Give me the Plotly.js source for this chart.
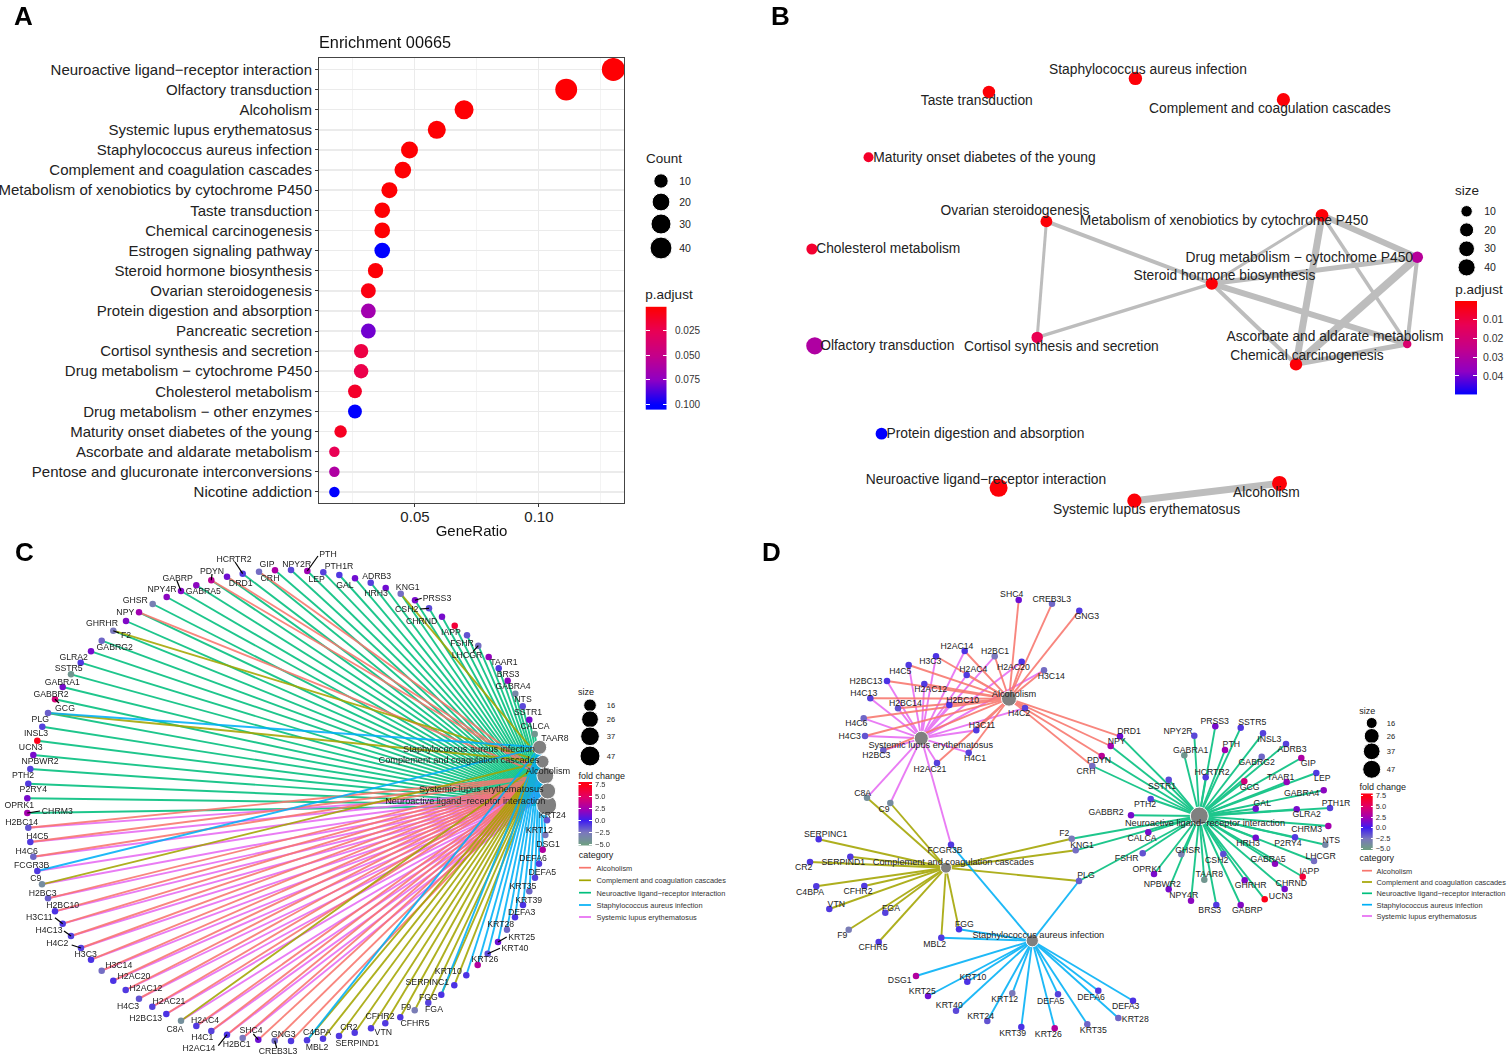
<!DOCTYPE html>
<html><head><meta charset="utf-8">
<script src="https://cdn.plot.ly/plotly-3.0.1.min.js"></script>
<style>html,body{margin:0;padding:0;background:#fff}#p{width:1508px;height:1057px}</style>
</head><body><div id="p"></div>
<script>
// ---------- Panel A: enrichment dot plot ----------
const terms = ["Neuroactive ligand−receptor interaction","Olfactory transduction","Alcoholism","Systemic lupus erythematosus","Staphylococcus aureus infection","Complement and coagulation cascades","Metabolism of xenobiotics by cytochrome P450","Taste transduction","Chemical carcinogenesis","Estrogen signaling pathway","Steroid hormone biosynthesis","Ovarian steroidogenesis","Protein digestion and absorption","Pancreatic secretion","Cortisol synthesis and secretion","Drug metabolism − cytochrome P450","Cholesterol metabolism","Drug metabolism − other enzymes","Maturity onset diabetes of the young","Ascorbate and aldarate metabolism","Pentose and glucuronate interconversions","Nicotine addiction"];
const geneRatio = [0.13,0.111,0.0698,0.0588,0.0478,0.0451,0.0397,0.0368,0.0368,0.0368,0.0341,0.0312,0.0312,0.0312,0.0283,0.0283,0.0258,0.0258,0.02,0.0175,0.0175,0.0175];
const termCount = [47,40,25,21,17,16,14,13,13,13,12,11,11,11,10,10,9,9,7,6,6,6];
const termPadj = [0.001,0.001,0.001,0.001,0.001,0.001,0.001,0.001,0.001,0.1,0.002,0.005,0.066,0.08,0.02,0.022,0.012,0.1,0.01,0.025,0.06,0.1];

// ---------- Panel B: term network ----------
const bTerms = ["Staphylococcus aureus infection","Taste transduction","Complement and coagulation cascades","Maturity onset diabetes of the young","Ovarian steroidogenesis","Metabolism of xenobiotics by cytochrome P450","Cholesterol metabolism","Drug metabolism − cytochrome P450","Steroid hormone biosynthesis","Cortisol synthesis and secretion","Ascorbate and aldarate metabolism","Olfactory transduction","Chemical carcinogenesis","Protein digestion and absorption","Neuroactive ligand−receptor interaction","Systemic lupus erythematosus","Alcoholism"];
const bX = [1135.4,988.9,1283.4,868.5,1046.4,1322,811.9,1417.3,1211.8,1037.2,1407.2,814.8,1296,881.5,998.6,1134.4,1279.5];
const bY = [78.4,92,99.7,157.2,221.4,215.3,249,257.3,283.6,337.4,344,345.8,364.4,433.7,487.8,500.7,483.4];
const bLabelX = [1148,976.8,1269.8,984.5,1015,1223.9,888.3,1299.3,1224.4,1061.4,1335,887.3,1307,985.5,986,1146.5,1266.4];
const bLabelY = [69.3,100.7,108.9,157.5,211,221,249,257.6,275.5,346.2,336.4,345.8,355.6,433.7,479.7,509.8,492.9];
const bCount = [17,13,16,7,11,14,9,10,12,10,6,40,13,11,47,21,25];
const bPadj = [0.001,0.001,0.001,0.006,0.001,0.001,0.007,0.028,0.001,0.012,0.018,0.03,0.001,0.05,0.001,0.001,0.001];
const bEdgeFrom = ["Ovarian steroidogenesis","Ovarian steroidogenesis","Cortisol synthesis and secretion","Steroid hormone biosynthesis","Steroid hormone biosynthesis","Steroid hormone biosynthesis","Steroid hormone biosynthesis","Metabolism of xenobiotics by cytochrome P450","Metabolism of xenobiotics by cytochrome P450","Metabolism of xenobiotics by cytochrome P450","Drug metabolism − cytochrome P450","Drug metabolism − cytochrome P450","Chemical carcinogenesis","Systemic lupus erythematosus"];
const bEdgeTo = ["Steroid hormone biosynthesis","Cortisol synthesis and secretion","Steroid hormone biosynthesis","Metabolism of xenobiotics by cytochrome P450","Drug metabolism − cytochrome P450","Chemical carcinogenesis","Ascorbate and aldarate metabolism","Drug metabolism − cytochrome P450","Chemical carcinogenesis","Ascorbate and aldarate metabolism","Chemical carcinogenesis","Ascorbate and aldarate metabolism","Ascorbate and aldarate metabolism","Alcoholism"];
const bEdgeSimilarity = [4,3,3.5,3,5,4,6,6,7,3.5,8,4,5,7];

// ---------- Panels C and D: gene-concept networks ----------
const genes = ["TAAR8","CALCA","SSTR1","NTS","GABRA4","BRS3","TAAR1","LHCGR","FSHR","IAPP","CHRND","CSH2","PRSS3","KNG1","HRH3","ADRB3","GAL","LEP","PTH1R","PTH","NPY2R","GIP","CRH","HCRTR2","DRD1","PDYN","GABRA5","GABRP","NPY4R","GHSR","NPY","GHRHR","F2","GABRG2","GLRA2","SSTR5","GABRA1","GABBR2","GCG","PLG","INSL3","UCN3","NPBWR2","PTH2","P2RY4","OPRK1","CHRM3","H2BC14","H4C5","H4C6","FCGR3B","C9","H2BC3","H2BC10","H3C11","H4C13","H4C2","H3C3","H3C14","H2AC20","H2AC12","H4C3","H2AC21","H2BC13","C8A","H2AC4","H4C1","H2AC14","H2BC1","SHC4","CREB3L3","GNG3","MBL2","C4BPA","SERPIND1","CR2","CFHR2","VTN","CFHR5","F9","FGA","FGG","SERPINC1","KRT10","KRT26","KRT40","KRT25","KRT28","DEFA3","KRT39","KRT35","DEFA5","DEFA6","DSG1","KRT12","KRT24"];
const foldChange = [-4.5,1.5,-1.2,-3.5,2,-0.8,2.2,-2.2,-1.5,6.5,1.5,-1.3,1.5,-2.2,1.3,-1,1.3,-0.8,-1,2.5,-1.2,3,-2.2,-0.8,1.3,3.5,2,1.8,2,-3,2.6,1.7,-2.6,-2,1.5,-0.8,-4.5,1.5,4.5,-1.8,-1,7.5,1.5,-1,-0.8,1.5,2.7,-1.5,-0.8,-2,-0.8,-3.8,-1.8,-0.6,-0.8,-1,-1,-0.6,-2.2,-0.6,-0.8,-1.5,-1,-0.6,-4,-0.8,-1,-0.6,-2.5,1.2,-2,-0.8,-0.8,-0.8,-0.8,-0.8,-0.8,-0.8,-0.8,-2.8,-1,-0.6,-0.6,-0.6,3.2,-1.2,1.2,-2,-0.6,-0.6,-2,-1,-0.8,3.2,-2.6,-1.5];
const cX = [534.7,529.3,522.7,515.3,507.7,498.7,488.7,478.3,467,454.7,442,429,415,400.7,385.7,370.7,355,339.3,323.3,307.3,291,275,259,242.7,227,211.3,196.3,181,166.7,152.7,139,126,113.3,101.7,91,80.7,71,62.7,55,48,42.3,37.3,33.3,30.3,28.3,27.3,27.3,28.3,30.3,33.3,37.3,42,48,55,62.7,71,81,91,101.7,113.3,125.7,139,152.3,166.3,181,196.3,211.3,227,242.7,258.3,274.7,291,307,323,339,354.7,371,385.3,400.3,414.7,428.3,441.3,454.3,466.3,477.7,487.7,498,507,515,523,529.3,535,539,542.7,545.3,547];
const cY = [734,719.7,706.3,693.7,680.7,668.3,657,645.7,635.3,625.7,616.7,608.3,600.3,593.7,588,582.7,578.3,575,572.3,571,570,570.3,571.7,573.7,576.7,580.3,585.3,591,597,604,612.3,621,630.7,640.7,651.3,662.7,674.3,687,699.3,713,726.7,740.7,755,769,783.7,798.3,813,827.7,842,856.7,871,884.3,898.3,911.3,923.7,936,948,959.7,970.7,980.7,990,998.7,1006.7,1014,1020.7,1026,1031,1034.7,1038,1039.7,1040.7,1041,1040.3,1038.7,1036,1032.7,1028.3,1023.3,1017.3,1010.3,1002.7,994.7,985.3,975.3,965,953.7,942,929.7,917.3,905,891.3,877.7,863.7,849.7,835,820.3];
const cLabelX = [555,535,528,523,513,508,504,467,462,451,421.7,406.7,437,407.7,376,376.7,345,316.7,339,328,296.7,267,270,234,240.7,212,203.3,177.7,162,135.3,125.3,102,126,114.7,73.7,68.7,62.3,51,65,40.3,36,30.7,40,23,33.3,19.3,57.3,21.7,37.3,26.7,31.7,35.7,42.7,62.7,39.3,49,57.3,85.7,118.7,134,146,128,169,145.7,175,205,202.3,199,236.7,251,278,283.3,317,317,357.3,349,380,383.3,415,406,434,428.3,427.3,448.3,485,515,521.7,500.7,521.7,528.7,523,542.3,533,548,539.3,552.3];
const cLabelY = [738,726,712,699,686,674,662,655,643,632,621,609,598,587,593.3,575.7,585,579,566,554,564,564,578,558.7,582.7,570.7,591,577.7,588.7,600,612.3,623.3,634.7,646.7,657.3,668.3,681.7,694,708,719.3,732.7,746.7,760.7,775,789.3,805,811,822.3,835.7,850.7,865.3,878.3,893,905.3,917,930,942.7,954,965,976.3,987.7,1005.7,1001.3,1017.7,1028.7,1019.7,1036.7,1047.7,1044.3,1030.3,1050.6,1034.3,1046.7,1032.3,1043.3,1027.3,1015.7,1032.3,1023,1006.7,1008.7,997,982.3,970.7,959,947.7,936.7,924.3,911.7,900,886,872,858,844.3,829.7,815];
const dX = [1204.3,1148.3,1168.7,1325.3,1323.7,1216.3,1286.7,1314,1142.7,1302.7,1284.7,1223.3,1215.3,1075.7,1255.7,1286,1255.7,1316.3,1330,1225,1194.3,1301.3,1092.3,1205.7,1120,1101.7,1275,1240.7,1191,1181.3,1110.7,1244.7,1071.7,1261.7,1296.7,1240.7,1184.3,1131,1244.3,1079,1263,1264.7,1168.7,1150.7,1295,1154,1328.3,898,908.7,863.7,951,890.3,883.3,949.3,976.3,870.3,1025,936,1044,1021.7,924.3,865,937,887,867,966.7,968.7,964.7,994.7,1018.7,1052,1079.3,941.3,816.3,850.3,810,864.3,829.3,878.7,848.7,885.3,959,818.7,967.3,1054.7,956,928,1118.3,1133,1021.3,1087.3,1058,1098.3,916,1012.3,987.3];
const dY = [879.7,832.3,779.7,844.7,790.3,905,782,861,853.3,876.7,889,854,726.3,850.3,837.7,744,808.7,773,808,750,735.7,758,766,777.3,736.3,756,863.7,905,900.7,854.3,746,880.3,838.7,756.7,809.3,727.7,755.3,815.3,781.3,881,733.3,899.3,889.3,799,837.3,874,826,708.3,665,718.3,844.7,803,750.3,705,730.3,698.3,708,656.3,670.3,661.7,684,736,763,681,797.7,675,752.7,651,656.3,600,603.7,610.7,937.7,886.3,856.7,862,886,909,942,929.7,912.7,929.3,839.3,981.7,1028.3,1010.7,996,1018,1000.7,1027,1024.3,994.3,990.7,976,993.3,1021];
const dLabelX = [1209.3,1142,1162,1331.3,1301.7,1209.7,1280.7,1320.7,1126.7,1309.3,1291.3,1216.7,1214.7,1082,1248,1292,1262.3,1322.3,1336,1231.3,1178,1308.3,1086,1212,1129,1099,1268,1247.3,1183.7,1187.7,1116.7,1250.7,1064.3,1256.7,1306.7,1252.3,1190.7,1106,1249.7,1086,1269.3,1280.7,1162.3,1145,1288,1147.3,1306.7,905.3,900.3,856.3,945,884,876.3,962.7,982,863.7,1019,930.3,1051.3,1013.3,930.7,849.7,930,866,862.7,973.3,975,957,995,1011.7,1051.7,1086.7,934.7,810,843.3,803.7,858,836.3,873,842.3,891,964.3,825.7,973,1048.3,949.3,922.3,1135.3,1125.7,1012.7,1093.3,1050.7,1091,899.7,1004.7,980.7];
const dLabelY = [874.3,837.7,785.7,839.7,792.7,909.7,777,855.7,858,871.3,882.7,860.3,721,845,843,748.7,803.3,778.3,803,744.3,730.7,763.3,771,772.3,730.7,760.3,858.7,909.7,895,849.7,741,885.3,833.3,761.7,814.3,721.7,750.3,812,786.7,875,738.7,896,884,804,843,869,828.7,703.3,671,723.3,850,809,755.3,699.7,725.3,692.7,713.3,661,675.7,666.7,689.3,736,769,680.7,793,669.3,758.3,645.7,651,594,598.7,615.7,943.7,892,862,867.3,891.3,904,947.3,935,908.3,924.3,834,976.7,1034,1004.7,990.7,1019,1006.3,1033,1029.7,1000.7,996.7,979.7,999.3,1015.7];

const alcoholismGenes = ["H2BC14","H4C5","H4C6","H2BC3","H2BC10","H3C11","H4C13","H4C2","H3C3","H3C14","H2AC20","H2AC12","H4C3","H2AC21","H2BC13","H2AC4","H4C1","H2AC14","H2BC1","SHC4","CREB3L3","GNG3","DRD1","NPY","PDYN","CRH"];
const complementGenes = ["SERPINC1","CR2","SERPIND1","C4BPA","CFHR2","VTN","FGA","F9","CFHR5","MBL2","FGG","F2","KNG1","PLG","C8A","C9"];
const neuroGenes = ["TAAR8","CALCA","SSTR1","NTS","GABRA4","BRS3","TAAR1","LHCGR","FSHR","IAPP","CHRND","CSH2","PRSS3","KNG1","HRH3","ADRB3","GAL","LEP","PTH1R","PTH","NPY2R","GIP","CRH","HCRTR2","DRD1","PDYN","GABRA5","GABRP","NPY4R","GHSR","NPY","GHRHR","F2","GABRG2","GLRA2","SSTR5","GABRA1","GABBR2","GCG","PLG","INSL3","UCN3","NPBWR2","PTH2","P2RY4","OPRK1","CHRM3"];
const staphGenes = ["FCGR3B","PLG","FGG","MBL2","DSG1","KRT10","KRT25","KRT12","DEFA5","DEFA6","KRT40","DEFA3","KRT28","KRT24","KRT35","KRT39","KRT26"];
const lupusGenes = ["H2BC14","H4C5","H4C6","FCGR3B","C9","H2BC3","H2BC10","H3C11","H4C13","H4C2","H3C3","H3C14","H2AC20","H2AC12","H4C3","H2AC21","H2BC13","C8A","H2AC4","H4C1","H2AC14","H2BC1"];

const hubNames = ["Alcoholism","Complement and coagulation cascades","Neuroactive ligand−receptor interaction","Staphylococcus aureus infection","Systemic lupus erythematosus"];
const hubCX = [545.3,542.7,546.7,539.7,547.7];
const hubCY = [775.7,761.7,805,747.3,791];
const hubCLabelX = [548,459,465.3,469,481.3];
const hubCLabelY = [771,760,800.3,748.7,788.7];
const hubDX = [1009,946,1199.3,1032.3,921.3];
const hubDY = [698.7,867.7,816,940.7,738.3];
const hubDLabelX = [1014,953.3,1205,1038.3,930.7];
const hubDLabelY = [693.7,862,822.3,934.7,744.3];

const leaderGenes = ["HCRTR2","PTH","GABRP","PDYN","F2","GCG","LHCGR","CSH2","PRSS3","CHRM3","H3C11","H4C13","H4C2","H2AC14","SHC4","CREB3L3","KRT25","KRT40"];
const leaderEndX = [235,318,177,212,119,59,473,420,421.7,40,55,64,71.7,218.3,253.3,276.7,506.7,500];
const leaderEndY = [562,556,581,574,633,703,651.7,609,598.3,811,917.7,931,945,1045.7,1034,1048,937,948.3];

// ---------- Legends ----------
const countBreaksA = [10,20,30,40];
const countBreaksB = [10,20,30,40];
const sizeBreaksNet = [16,26,37,47];
const padjTicksA = [0.025,0.05,0.075,0.1];
const padjTicksB = [0.01,0.02,0.03,0.04];
const fcTicks = [7.5,5,2.5,0,-2.5,-5];

// ---------- Styles ----------
const FONT = '"Liberation Sans", Arial, sans-serif';
const padjScale = [[0,'#ff0000'],[0.25,'#e90055'],[0.5,'#c4008b'],[0.75,'#8f00c4'],[1,'#0000ff']];
const fcScale = [[0,'#6f9e84'],[0.2,'#7b78bd'],[0.4,'#3d1cf0'],[0.6,'#a000b4'],[0.8,'#e0006a'],[1,'#ff0018']];
const catColor = {alc:'#F8766D',comp:'#A3A500',neuro:'#00BF7D',staph:'#00B0F6',lupus:'#E76BF3'};
const sizeA = c => 10.5 + 12.5*Math.sqrt((c-6)/41);
const sizeB = c => 8.5 + 9.5*Math.sqrt((c-6)/41);
const sizeC = c => 12.7 + 7.3*Math.sqrt(Math.max(c-16,0)/31);
const sizeD = c => 11 + 7*Math.sqrt(Math.max(c-16,0)/31);

const idx = {}; genes.forEach((g,i)=>idx[g]=i);
const NET = {xaxis:'x2',yaxis:'y2',hoverinfo:'skip',showlegend:false,cliponaxis:false};
const traces = [];

// Panel A
traces.push({type:'scatter',mode:'markers',x:geneRatio,y:terms,hoverinfo:'skip',showlegend:false,
  marker:{size:termCount.map(sizeA),color:termPadj,colorscale:padjScale,cmin:0,cmax:0.1,showscale:false,opacity:1,line:{width:0}}});

// Legend helpers: labels sit about 1 unit lower than Plotly's middle anchor
function txt(xs,ys,ts,size,pos,color){
  traces.push(Object.assign({type:'scatter',mode:'text',x:xs,y:ys.map(v=>v+1),text:ts,textposition:pos||'middle center',
    textfont:{family:FONT,size:size,color:color||'#222'}},NET));
}
function dots(xs,ys,sizes){
  traces.push(Object.assign({type:'scatter',mode:'markers',x:xs,y:ys,marker:{size:sizes,color:'#000',opacity:1}},NET));
}
// Legend A
dots(countBreaksA.map(()=>661),[181,202,224,248],countBreaksA.map(sizeA));
txt([664],[158.6],['Count'],13.5);
txt(countBreaksA.map(()=>685),[181,202,224,248],countBreaksA.map(String),10.5);
txt([669],[294.8],['p.adjust'],13.5);

// Panel B edges
bEdgeFrom.forEach((f,i)=>{
  const a=bTerms.indexOf(f),b=bTerms.indexOf(bEdgeTo[i]);
  traces.push(Object.assign({type:'scatter',mode:'lines',x:[bX[a],bX[b]],y:[bY[a],bY[b]],
    line:{color:'#BDBDBD',width:bEdgeSimilarity[i]}},NET));
});
traces.push(Object.assign({type:'scatter',mode:'markers',x:bX,y:bY,
  marker:{size:bCount.map(sizeB),color:bPadj,colorscale:padjScale,cmin:0,cmax:0.05,opacity:1,line:{width:0}}},NET));
txt(bLabelX,bLabelY,bTerms,13.8);
dots(countBreaksB.map(()=>1466.6),[211.3,229.9,248.8,267.4],countBreaksB.map(sizeB));
txt(countBreaksB.map(()=>1490),[211.3,229.9,248.8,267.4],countBreaksB.map(String),10.5);
txt([1467],[191],['size'],13.5);
txt([1479],[290],['p.adjust'],13.5);

// Panels C and D
const categories = [
  {key:'neuro',list:neuroGenes,hub:2},
  {key:'lupus',list:lupusGenes,hub:4},
  {key:'alc',list:alcoholismGenes,hub:0},
  {key:'comp',list:complementGenes,hub:1},
  {key:'staph',list:staphGenes,hub:3}
];
function network(nx,ny,hx,hy,lw){
  categories.forEach(c=>{
    const xs=[],ys=[];
    c.list.forEach(g=>{const i=idx[g];xs.push(nx[i],hx[c.hub],null);ys.push(ny[i],hy[c.hub],null);});
    traces.push(Object.assign({type:'scatter',mode:'lines',x:xs,y:ys,line:{color:catColor[c.key],width:lw},opacity:0.88},NET));
  });
}
const hubCounts = hubNames.map((_,h)=>categories.find(c=>c.hub===h).list.length);
// C
network(cX,cY,hubCX,hubCY,1.9);
traces.push(Object.assign({type:'scatter',mode:'markers',x:hubCX,y:hubCY,marker:{size:hubCounts.map(sizeC),color:'#808080',opacity:1}},NET));
traces.push(Object.assign({type:'scatter',mode:'markers',x:cX,y:cY,
  marker:{size:6.5,color:foldChange,colorscale:fcScale,cmin:-5,cmax:7.5,opacity:1,line:{width:0}}},NET));
{ const xs=[],ys=[]; leaderGenes.forEach((g,k)=>{const i=idx[g];xs.push(cX[i],leaderEndX[k],null);ys.push(cY[i],leaderEndY[k],null);});
  traces.push(Object.assign({type:'scatter',mode:'lines',x:xs,y:ys,line:{color:'#000',width:1.2}},NET)); }
txt(cLabelX,cLabelY,genes,8.7);
txt(hubCLabelX,hubCLabelY,hubNames,9.2);
// D
network(dX,dY,hubDX,hubDY,1.9);
traces.push(Object.assign({type:'scatter',mode:'markers',x:hubDX,y:hubDY,marker:{size:hubCounts.map(sizeD),color:'#808080',opacity:1}},NET));
traces.push(Object.assign({type:'scatter',mode:'markers',x:dX,y:dY,
  marker:{size:6.5,color:foldChange,colorscale:fcScale,cmin:-5,cmax:7.5,opacity:1,line:{width:0}}},NET));
txt(dLabelX,dLabelY,genes,8.7);
txt(hubDLabelX,hubDLabelY,hubNames,9.2);

// Legends C / D
function netLegend(dotX,dotYs,numX,sizeTitle,fcTitle,catTitle,lineX0,lineX1,lineYs,labelX,sizeFn){
  dots(sizeBreaksNet.map(()=>dotX),dotYs,sizeBreaksNet.map(sizeFn));
  txt(sizeBreaksNet.map(()=>numX),dotYs,sizeBreaksNet.map(String),7.5);
  txt([sizeTitle[0]],[sizeTitle[1]],['size'],9);
  txt([fcTitle[0]],[fcTitle[1]],['fold change'],9);
  txt([catTitle[0]],[catTitle[1]],['category'],9);
  ['alc','comp','neuro','staph','lupus'].forEach((k,i)=>{
    traces.push(Object.assign({type:'scatter',mode:'lines',x:[lineX0,lineX1],y:[lineYs[i],lineYs[i]],line:{color:catColor[k],width:1.7}},NET));
  });
  txt(lineYs.map(()=>labelX),lineYs,hubNames,7.4,'middle right','#333');
}
netLegend(590,[705.3,719.3,736.3,756],611,[586,692],[601.7,775.7],[596,854.3],579,591,[867.7,880.3,892.7,905,917],596.5,sizeC);
netLegend(1371.7,[723,736,751.3,769.3],1391,[1367.3,710.7],[1382.7,787],[1376.7,858],1362,1372,[870.7,882,893.3,904.7,916],1376.5,sizeD);

// Colour bars
const layoutExtra = {};
function cbar(n,levels,scale,zmin,zmax,range,ticks,ticktext,tickSize,px){
  traces.push({type:'heatmap',xaxis:'x'+n,yaxis:'y'+n,x:[0,1],y:levels,z:levels.map(v=>[v,v]),zsmooth:'best',
    colorscale:scale,zmin:zmin,zmax:zmax,showscale:false,hoverinfo:'skip'});
  layoutExtra['xaxis'+n]={domain:[px.l/1508,px.r/1508],range:[0,1],visible:false,fixedrange:true,anchor:'y'+n};
  layoutExtra['yaxis'+n]={domain:[1-px.b/1057,1-px.t/1057],range:range,anchor:'x'+n,side:'right',showgrid:false,zeroline:false,
    showline:false,ticks:'inside',ticklen:Math.round((px.r-px.l)/5),tickcolor:'#fff',tickwidth:1,mirror:'ticks',
    tickvals:ticks,ticktext:ticktext,tickfont:{family:FONT,size:tickSize,color:'#333'},ticklabelstandoff:px.gap||2};
}
cbar(3,[0,0.025,0.05,0.075,0.1,0.125],padjScale,0,0.1,[0.106,0],padjTicksA,padjTicksA.map(v=>v.toFixed(3)),10,{l:645.5,r:667,t:306.6,b:410,gap:7});
cbar(4,[0,0.01,0.02,0.03,0.04,0.05],padjScale,0,0.05,[0.0499,0],padjTicksB,padjTicksB.map(String),10.5,{l:1455,r:1477,t:300.9,b:394.5,gap:5});
cbar(5,[-5,-2.5,0,2.5,5,7.5,10],fcScale,-5,7.5,[-5.3,8.1],fcTicks,fcTicks.map(v=>v.toFixed(1).replace('-','−')),7.5,{l:578.3,r:592,t:782,b:845.5});
cbar(6,[-5,-2.5,0,2.5,5,7.5,10],fcScale,-5,7.5,[-5.3,8.1],fcTicks,fcTicks.map(v=>v.toFixed(1).replace('-','−')),7.5,{l:1361,r:1372.7,t:793.3,b:850});

const letterFont = {family:FONT,size:26,color:'#000'};
const layout = Object.assign({
  width:1508,height:1057,margin:{l:0,r:0,t:0,b:0,pad:0},paper_bgcolor:'#fff',plot_bgcolor:'rgba(0,0,0,0)',showlegend:false,
  title:{text:'Enrichment 00665',x:319/1508,xanchor:'left',xref:'paper',y:1-42/1057,yanchor:'middle',yref:'paper',font:{family:FONT,size:16.3,color:'#111'},pad:{t:0,b:0,l:0,r:0}},
  xaxis:{domain:[319/1508,624/1508],range:[0.0113,0.1343],anchor:'y',tickvals:[0.05,0.1],ticktext:['0.05','0.10'],
    tickfont:{family:FONT,size:15,color:'#222'},ticks:'outside',ticklen:3,tickcolor:'#333',ticklabelstandoff:-3,
    showgrid:true,gridcolor:'#ebebeb',gridwidth:1,zeroline:false,showline:true,mirror:true,linecolor:'#444',linewidth:1,
    minor:{tickvals:[0.025,0.075,0.125],showgrid:true,gridcolor:'#f3f3f3',gridwidth:1,ticks:''},
    title:{text:'GeneRatio',font:{family:FONT,size:15,color:'#111'},standoff:1}},
  yaxis:{domain:[1-503/1057,1-58/1057],type:'category',categoryorder:'array',categoryarray:terms,range:[21.55,-0.57],anchor:'x',
    tickfont:{family:FONT,size:15,color:'#222'},ticks:'outside',ticklen:3,tickcolor:'#333',
    showgrid:true,gridcolor:'#ebebeb',gridwidth:1.5,zeroline:false,showline:true,mirror:true,linecolor:'#444',linewidth:1,automargin:false},
  xaxis2:{domain:[0,1],range:[0,1508],visible:false,fixedrange:true,anchor:'y2'},
  yaxis2:{domain:[0,1],range:[1057,0],visible:false,fixedrange:true,anchor:'x2'},
  annotations:[['A',23,16],['B',780,16],['C',24,552],['D',771,552]].map(a=>({text:'<b>'+a[0]+'</b>',xref:'x2',yref:'y2',x:a[1],y:a[2],showarrow:false,font:letterFont}))
},layoutExtra);

Plotly.newPlot('p',traces,layout,{displayModeBar:false,staticPlot:true});
</script>
</body></html>
